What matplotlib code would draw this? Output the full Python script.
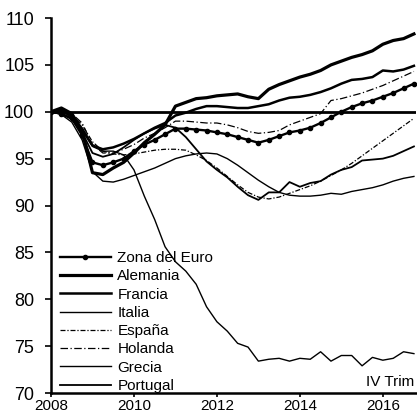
import numpy as np
import matplotlib
matplotlib.use("Agg")
import matplotlib.pyplot as plt

plt.rcParams['font.family'] = ['Liberation Sans', 'DejaVu Sans']

# -- datos trimestrales, 2008 I a 2016 IV (2008 I = 100) --
years = 2008 + np.arange(36) / 4.0

zona_euro = [100.0, 99.8, 99.3, 97.5, 94.6, 94.3, 94.6, 95.0, 95.8, 96.5, 97.0, 97.6,
             98.2, 98.2, 98.1, 98.0, 97.8, 97.6, 97.3, 97.0, 96.7, 97.0, 97.4, 97.8,
             98.0, 98.3, 98.8, 99.4, 100.0, 100.5, 100.9, 101.2, 101.6, 102.0, 102.5, 103.0]
alemania = [100.0, 100.4, 99.8, 98.0, 93.5, 93.3, 94.0, 94.6, 95.6, 96.7, 97.6, 98.6,
            100.6, 101.0, 101.4, 101.5, 101.7, 101.8, 101.9, 101.6, 101.4, 102.4, 102.9, 103.3,
            103.7, 104.0, 104.4, 105.0, 105.4, 105.8, 106.1, 106.5, 107.2, 107.6, 107.8, 108.3]
francia = [100.0, 100.1, 99.5, 98.2, 96.4, 96.0, 96.2, 96.6, 97.1, 97.7, 98.3, 98.8,
           99.6, 99.9, 100.3, 100.6, 100.6, 100.5, 100.4, 100.4, 100.6, 100.8, 101.2, 101.5,
           101.6, 101.8, 102.1, 102.5, 103.0, 103.4, 103.5, 103.7, 104.4, 104.3, 104.5, 104.9]
italia = [100.0, 99.7, 98.9, 97.0, 93.6, 92.6, 92.5, 92.8, 93.2, 93.6, 94.0, 94.5,
          95.0, 95.3, 95.5, 95.6, 95.5, 95.0, 94.3, 93.5, 92.7, 92.0, 91.4, 91.1,
          91.0, 91.0, 91.1, 91.3, 91.2, 91.5, 91.7, 91.9, 92.2, 92.6, 92.9, 93.1]
espana = [100.0, 100.3, 99.7, 98.6, 96.8, 95.8, 95.5, 95.4, 95.5, 95.7, 95.9, 96.0,
          96.0, 95.9, 95.4, 94.8, 94.0, 93.1, 92.2, 91.4, 90.9, 90.7, 90.9, 91.3,
          91.7, 92.1, 92.6, 93.2, 93.8, 94.5, 95.3, 96.1, 96.9, 97.7, 98.5, 99.3]
holanda = [100.0, 100.3, 99.8, 98.8, 96.5, 95.6, 95.6, 96.0, 96.5, 97.2, 97.7, 98.3,
           99.0, 99.0, 98.9, 98.8, 98.8, 98.6, 98.3, 97.9, 97.7, 97.8, 98.0, 98.6,
           99.0, 99.4, 99.8, 101.2, 101.4, 101.7, 102.0, 102.4, 102.8, 103.3, 103.8, 104.3]
grecia = [100.0, 100.2, 99.6, 98.0, 96.3, 95.8, 95.8, 95.4, 93.8, 91.0, 88.5, 85.6,
          84.0, 83.0, 81.6, 79.2, 77.6, 76.6, 75.3, 74.9, 73.4, 73.6, 73.7, 73.4,
          73.7, 73.6, 74.4, 73.4, 74.0, 74.0, 72.9, 73.8, 73.5, 73.7, 74.4, 74.2]
portugal = [100.0, 99.8, 99.2, 97.8, 95.6, 95.2, 95.5, 96.2, 97.0, 97.7, 98.2, 98.6,
            98.3, 97.3, 96.0, 94.7, 93.8, 93.0, 92.0, 91.1, 90.6, 91.4, 91.4, 92.5,
            92.0, 92.4, 92.6, 93.3, 93.8, 94.1, 94.8, 94.9, 95.0, 95.3, 95.8, 96.3]

xticks = [2008, 2010, 2012, 2014, 2016]
yticks = [70, 75, 80, 85, 90, 95, 100, 105, 110]

fig = plt.figure(figsize=(4.17, 4.13), dpi=100)
ax = fig.add_axes([0.1223, 0.0484, 0.8753, 0.908])

ax.axhline(100, color='black', lw=2.0, zorder=1)

ax.plot(years, zona_euro, color='black', lw=1.7, marker='o', markersize=3, label='Zona del Euro')
ax.plot(years, alemania, color='black', lw=2.3, label='Alemania')
ax.plot(years, francia, color='black', lw=1.8, label='Francia')
ax.plot(years, italia, color='black', lw=1.0, label='Italia')
ax.plot(years, espana, color='black', lw=0.9, ls=(0, (4, 1.5, 1, 1.5)), label='España')
ax.plot(years, holanda, color='black', lw=0.9, ls=(0, (6, 2, 1, 2)), label='Holanda')
ax.plot(years, grecia, color='black', lw=1.0, label='Grecia')
ax.plot(years, portugal, color='black', lw=1.3, label='Portugal')

ax.set_xlim(2008, 2016.8)
ax.set_ylim(70, 110)
ax.set_xticks(xticks)
ax.set_yticks(yticks)
ax.tick_params(axis='y', labelsize=13, direction='out', length=4, width=1.2, pad=8)
ax.tick_params(axis='x', labelsize=11, direction='out', length=3, width=1.2, pad=1)

for s in ['top', 'right']:
    ax.spines[s].set_visible(False)
ax.spines['left'].set_linewidth(1.8)
ax.spines['bottom'].set_linewidth(1.8)

ax.legend(loc='lower left', bbox_to_anchor=(0.025, 0.0), frameon=False, fontsize=11,
          handlelength=3.3, handletextpad=0.45, labelspacing=0.28, borderpad=0,
          borderaxespad=0)

ax.text(0.995, 0.012, 'IV Trim', transform=ax.transAxes, ha='right', va='bottom', fontsize=11)

fig.savefig('out.png', dpi=100)
